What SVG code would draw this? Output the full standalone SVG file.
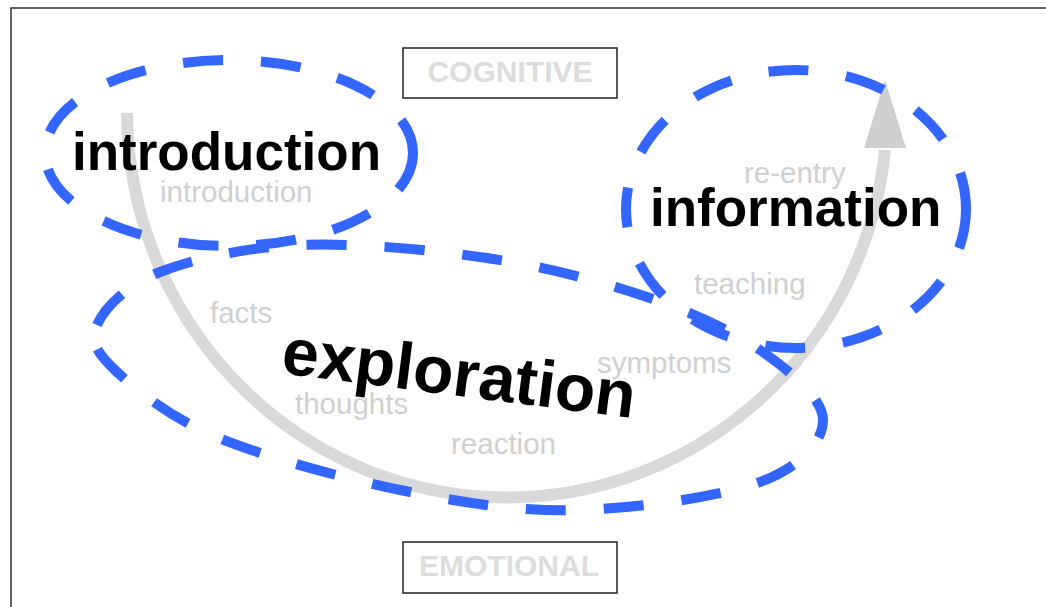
<svg xmlns="http://www.w3.org/2000/svg" width="1046" height="607" viewBox="0 0 1046 607">
<style>
.frame{fill:#fff;stroke:#333;stroke-width:1.5}
.box{fill:#fff;stroke:#222;stroke-width:1.5}
.blue{fill:none;stroke:#3366ff;stroke-width:10;stroke-dasharray:40 38}
.arc{fill:none;stroke:#d9d9d9;stroke-width:12}
.big{font-family:"Liberation Sans",Arial,sans-serif;font-weight:bold;fill:#000}
.sm{font-family:"Liberation Sans",Arial,sans-serif;font-size:29.5px;fill:#d0d0d0}
.lab{font-family:"Liberation Sans",Arial,sans-serif;font-weight:bold;font-size:30px;fill:#dddddd}
</style>
<rect class="frame" x="11" y="8" width="1045" height="610"/>
<g id="connectors">
<path class="arc" d="M127,113 A380,387 0 0 0 885,150"/>
<polygon points="885,80 864,148 906,148" fill="#cfcfcf"/>
</g>
<g id="cognitive">
<rect class="box" x="403" y="48" width="214" height="50"/>
<text class="lab" x="510" y="82" text-anchor="middle">COGNITIVE</text>
</g>
<g id="emotional">
<rect class="box" x="403" y="542" width="214" height="51"/>
<text class="lab" x="509" y="576" text-anchor="middle">EMOTIONAL</text>
</g>
<g id="introduction">
<ellipse class="blue" cx="229" cy="153" rx="184" ry="93"/>
<text class="big" x="72" y="170" font-size="53">introduction</text>
<text class="sm" x="160" y="202">introduction</text>
</g>
<g id="information">
<ellipse class="blue" cx="796" cy="209" rx="170" ry="139"/>
<text class="big" x="650" y="226" font-size="53">information</text>
<text class="sm" x="744" y="183">re-entry</text>
<text class="sm" x="694" y="294">teaching</text>
</g>
<g id="exploration">
<path class="blue" d="M97,325 C104.2,308.3 126.2,285.3 160,272 C193.8,258.7 245.5,247.3 300,245 C354.5,242.7 429.7,249.5 487,258 C544.3,266.5 598.5,280.7 644,296 C689.5,311.3 730.2,329.3 760,350 C789.8,370.7 823,398 823,420 C823,442 800.5,467 760,482 C719.5,497 638.3,508.3 580,510 C521.7,511.7 470.2,504 410,492 C349.8,480 267.8,458 219,438 C170.2,418 137.3,390.8 117,372 C96.7,353.2 89.8,341.7 97,325 Z"/>
<text class="big" transform="translate(280,373) rotate(7.3)" font-size="66">exploration</text>
<text class="sm" x="210" y="323">facts</text>
<text class="sm" x="295" y="414">thoughts</text>
<text class="sm" x="451" y="454">reaction</text>
<text class="sm" x="597" y="373">symptoms</text>
</g>
</svg>
